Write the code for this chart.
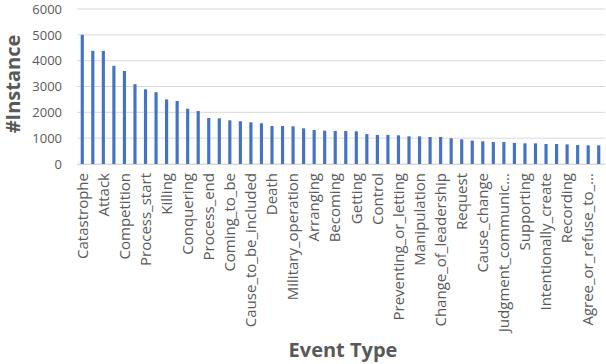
<!DOCTYPE html>
<html>
<head>
<meta charset="utf-8">
<script src="https://cdn.jsdelivr.net/npm/d3@7"></script>
<style>
  body { margin: 0; background: #fff; }
</style>
</head>
<body>
<div id="chart"></div>
<script>
"use strict";

// event types, most frequent first (only every other one is labelled in the figure)
const eventTypes = [
  "Catastrophe", "Causation", "Attack", "Hostile_encounter", "Competition",
  "Motion", "Process_start", "Presence", "Killing", "Statement",
  "Conquering", "Social_event", "Process_end", "Destroying", "Coming_to_be",
  "Sending", "Cause_to_be_included", "Damaging", "Death", "Participation",
  "Military_operation", "Using", "Arranging", "Know", "Becoming",
  "Expansion", "Getting", "Creating", "Control", "Hold",
  "Preventing_or_letting", "Action", "Manipulation", "Removing", "Change_of_leadership",
  "Earnings_and_losses", "Request", "Legality", "Cause_change", "Bringing",
  "Judgment_communication", "Arrest", "Supporting", "Defending", "Intentionally_create",
  "Receiving", "Recording", "Placing", "Agree_or_refuse_to_act", "Traveling"
];

const instances = [
  5000, 4380, 4380, 3800, 3600, 3090, 2890, 2780, 2500, 2440,
  2140, 2050, 1780, 1770, 1690, 1655, 1615, 1575, 1470, 1470,
  1460, 1380, 1315, 1290, 1280, 1280, 1265, 1160, 1125, 1125,
  1110, 1070, 1070, 1045, 1045, 995, 955, 905, 880, 850,
  850, 815, 800, 800, 775, 775, 760, 735, 722, 722
];

const yTicks = [0, 1000, 2000, 3000, 4000, 5000, 6000];

// labels as shown on the axis (long ones are cut short)
const shownLabel = (name) => {
  if (name === "Judgment_communication") return "Judgment_communic...";
  if (name === "Agree_or_refuse_to_act") return "Agree_or_refuse_to_...";
  return name;
};

const W = 606;
const H = 364;
const plot = { left: 77, right: 604, top: 9, bottom: 164 };

const svg = d3
  .select("#chart")
  .append("svg")
  .attr("width", W)
  .attr("height", H)
  .style("font-family", "'Open Sans', 'Noto Sans', sans-serif");

const x = d3
  .scaleBand()
  .domain(eventTypes)
  .range([plot.left, plot.right])
  .paddingInner(0.7)
  .paddingOuter(0.35);

const y = d3
  .scaleLinear()
  .domain([0, 6000])
  .range([plot.bottom, plot.top]);

// gridlines
svg
  .append("g")
  .selectAll("line")
  .data(yTicks)
  .enter()
  .append("line")
  .attr("x1", plot.left)
  .attr("x2", W - 1)
  .attr("y1", (d) => y(d))
  .attr("y2", (d) => y(d))
  .attr("stroke", "#d9d9d9")
  .attr("stroke-width", 1);

// y axis labels
const yAxis = svg
  .append("g")
  .attr("transform", `translate(${plot.left}, 0)`)
  .call(
    d3
      .axisLeft(y)
      .tickValues(yTicks)
      .tickFormat(d3.format("d"))
      .tickSize(0)
      .tickPadding(15)
  );
yAxis.select(".domain").remove();
yAxis
  .selectAll("text")
  .attr("fill", "#595959")
  .attr("font-size", "13px")
  .style("font-family", "'Open Sans', sans-serif");

// bars
svg
  .append("g")
  .selectAll("rect")
  .data(eventTypes)
  .enter()
  .append("rect")
  .attr("x", (d) => x(d))
  .attr("y", (d, i) => y(instances[i]))
  .attr("width", x.bandwidth())
  .attr("height", (d, i) => y(0) - y(instances[i]))
  .attr("fill", "#4472c4");

// x axis, every other category labelled
const xAxis = svg
  .append("g")
  .attr("transform", `translate(0, ${plot.bottom})`)
  .call(
    d3
      .axisBottom(x)
      .tickValues(eventTypes.filter((d, i) => i % 2 === 0))
      .tickFormat(shownLabel)
      .tickSize(0)
  );
xAxis.select(".domain").attr("stroke", "#d9d9d9").attr("d", `M${plot.left},0.5H${W - 1}`);
xAxis
  .selectAll("text")
  .attr("fill", "#595959")
  .attr("font-size", "15px")
  .attr("transform", "rotate(-90)")
  .attr("text-anchor", "end")
  .attr("x", -9)
  .attr("y", 0)
  .attr("dy", "0.35em")
  .style("font-family", "'Open Sans', sans-serif");

// axis titles
svg
  .append("text")
  .attr("transform", "translate(20, 84) rotate(-90)")
  .attr("text-anchor", "middle")
  .attr("fill", "#595959")
  .attr("font-size", "20px")
  .attr("font-weight", "bold")
  .text("#Instance");

svg
  .append("text")
  .attr("x", 343)
  .attr("y", 357)
  .attr("text-anchor", "middle")
  .attr("fill", "#595959")
  .attr("font-size", "20px")
  .attr("font-weight", "bold")
  .text("Event Type");
</script>
</body>
</html>
